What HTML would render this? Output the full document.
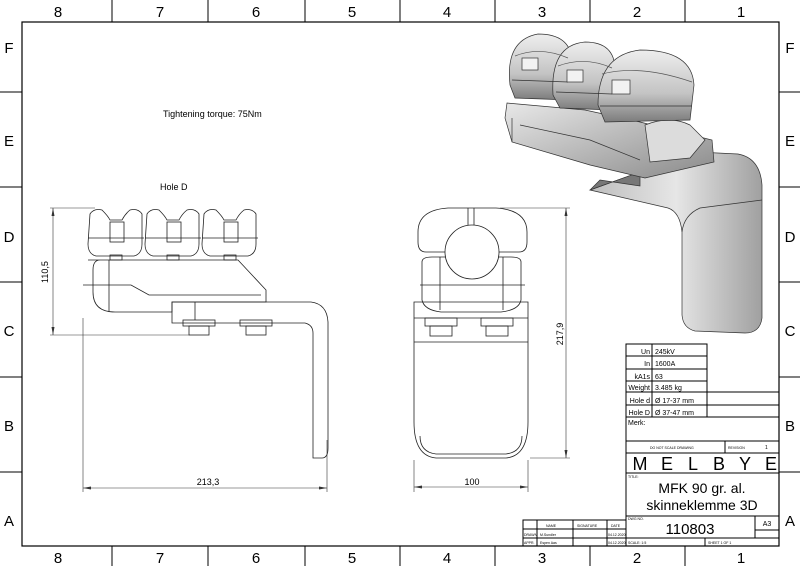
<!DOCTYPE html>
<html><head><meta charset="utf-8"><style>
html,body{margin:0;padding:0;background:#fff}
svg{display:block;font-family:"Liberation Sans",sans-serif}
</style></head><body>
<svg width="800" height="566" viewBox="0 0 800 566" xmlns="http://www.w3.org/2000/svg">
<defs>
<linearGradient id="g1" x1="0" y1="0" x2="1" y2="1"><stop offset="0" stop-color="#e8e8e8"/><stop offset="1" stop-color="#8a8a8a"/></linearGradient>
<linearGradient id="g2" x1="0" y1="0" x2="1" y2="0"><stop offset="0" stop-color="#bdbdbd"/><stop offset="0.5" stop-color="#e6e6e6"/><stop offset="1" stop-color="#a0a0a0"/></linearGradient>
<linearGradient id="g3" x1="0" y1="0" x2="0" y2="1"><stop offset="0" stop-color="#eeeeee"/><stop offset="0.6" stop-color="#c4c4c4"/><stop offset="1" stop-color="#7c7c7c"/></linearGradient>
<marker id="ar" markerWidth="8" markerHeight="6" refX="8" refY="3" orient="auto-start-reverse" markerUnits="userSpaceOnUse"><path d="M0 1.5 L8 3 L0 4.5z" fill="#333"/></marker>
</defs>
<rect x="0" y="0" width="800" height="566" fill="#fff"/>
<rect x="22" y="22" width="757" height="524" fill="none" stroke="#000" stroke-width="1.2"/>
<g stroke="#000" stroke-width="1">
<line x1="112" y1="0" x2="112" y2="22"/><line x1="208" y1="0" x2="208" y2="22"/><line x1="305" y1="0" x2="305" y2="22"/><line x1="400" y1="0" x2="400" y2="22"/><line x1="495" y1="0" x2="495" y2="22"/><line x1="590" y1="0" x2="590" y2="22"/><line x1="685" y1="0" x2="685" y2="22"/>
<line x1="112" y1="546" x2="112" y2="566"/><line x1="208" y1="546" x2="208" y2="566"/><line x1="305" y1="546" x2="305" y2="566"/><line x1="400" y1="546" x2="400" y2="566"/><line x1="495" y1="546" x2="495" y2="566"/><line x1="590" y1="546" x2="590" y2="566"/><line x1="685" y1="546" x2="685" y2="566"/>
<line x1="0" y1="92" x2="22" y2="92"/><line x1="0" y1="187" x2="22" y2="187"/><line x1="0" y1="282" x2="22" y2="282"/><line x1="0" y1="377" x2="22" y2="377"/><line x1="0" y1="472" x2="22" y2="472"/>
<line x1="779" y1="92" x2="800" y2="92"/><line x1="779" y1="187" x2="800" y2="187"/><line x1="779" y1="282" x2="800" y2="282"/><line x1="779" y1="377" x2="800" y2="377"/><line x1="779" y1="472" x2="800" y2="472"/>
</g>
<g font-size="15" fill="#000" text-anchor="middle">
<text x="58" y="17">8</text><text x="160" y="17">7</text><text x="256" y="17">6</text><text x="352" y="17">5</text><text x="447" y="17">4</text><text x="542" y="17">3</text><text x="637" y="17">2</text><text x="741" y="17">1</text>
<text x="58" y="563">8</text><text x="160" y="563">7</text><text x="256" y="563">6</text><text x="352" y="563">5</text><text x="447" y="563">4</text><text x="542" y="563">3</text><text x="637" y="563">2</text><text x="741" y="563">1</text>
<text x="9" y="53">F</text><text x="9" y="146">E</text><text x="9" y="242">D</text><text x="9" y="336">C</text><text x="9" y="431">B</text><text x="9" y="526">A</text>
<text x="790" y="53">F</text><text x="790" y="146">E</text><text x="790" y="242">D</text><text x="790" y="336">C</text><text x="790" y="431">B</text><text x="790" y="526">A</text>
</g>
<text x="163" y="117" font-size="9">Tightening torque: 75Nm</text>
<text x="160" y="190" font-size="9">Hole D</text>

<!-- side view -->
<g fill="none" stroke="#222" stroke-width="0.8">
<path d="M90 214 q4-6 12-4 q6 6 8 10 h12 q3-6 8-10 q8-2 12 4 v30 q0 10-8 12 h-38 q-8-2-8-12z"/>
<path d="M147 214 q4-6 12-4 q6 6 8 10 h12 q3-6 8-10 q8-2 12 4 v30 q0 10-8 12 h-38 q-8-2-8-12z"/>
<path d="M204 214 q4-6 12-4 q6 6 8 10 h12 q3-6 8-10 q8-2 12 4 v30 q0 10-8 12 h-38 q-8-2-8-12z"/>
<line x1="88" y1="238" x2="144" y2="238"/><line x1="145" y1="238" x2="201" y2="238"/><line x1="202" y1="238" x2="258" y2="238"/>
<rect x="110" y="222" width="14" height="20"/><rect x="167" y="222" width="14" height="20"/><rect x="224" y="222" width="14" height="20"/>
<rect x="110" y="255" width="12" height="5"/><rect x="167" y="255" width="12" height="5"/><rect x="224" y="255" width="12" height="5"/>
<path d="M88 260 h150 l28 30 v12 h-94 v10 h-57 q-22 0-22-20 v-22 q0-10 7-10z"/>
<path d="M83 285 h48 l18 10 h112 M109 260 v52"/>
<path d="M172 302 h139 q16 2 17 20 v126 q0 10-6 10 h-9 v-125 q0-8-8-10 h-133z"/>
<line x1="195" y1="302" x2="195" y2="320"/>
<rect x="183" y="320" width="32" height="6"/><rect x="189" y="326" width="20" height="9"/>
<rect x="240" y="320" width="32" height="6"/><rect x="246" y="326" width="20" height="9"/>
</g>
<g stroke="#333" stroke-width="0.6" fill="none">
<line x1="50" y1="208" x2="95" y2="208"/><line x1="50" y1="335" x2="190" y2="335"/>
<line x1="53" y1="208" x2="53" y2="335" marker-start="url(#ar)" marker-end="url(#ar)"/>
<line x1="83" y1="318" x2="83" y2="492"/><line x1="327" y1="440" x2="327" y2="492"/>
<line x1="83" y1="488" x2="327" y2="488" marker-start="url(#ar)" marker-end="url(#ar)"/>
</g>
<text x="48" y="272" font-size="9" transform="rotate(-90 48 272)" text-anchor="middle">110,5</text>
<text x="208" y="485" font-size="9" text-anchor="middle">213,3</text>

<!-- front view -->
<g fill="none" stroke="#222" stroke-width="0.8">
<path d="M418 232 q0-22 30-24 h48 q31 2 31 24 v10 q0 10-8 10 h-93 q-8 0-8-10z"/>
<line x1="468" y1="208" x2="468" y2="230"/><line x1="474" y1="208" x2="474" y2="230"/>
<path d="M422 262 q0-5 10-5 h79 q10 0 10 5 v38 q-2 10-20 12 h-60 q-17-2-19-12z"/>
<circle cx="472" cy="252" r="27" fill="#fff"/>
<line x1="420" y1="285" x2="525" y2="285"/>
<line x1="440" y1="257" x2="440" y2="310"/><line x1="503" y1="257" x2="503" y2="310"/>
<path d="M414 302 h114 v120 q0 34-22 36 h-70 q-22-2-22-36z"/>
<line x1="414" y1="318" x2="528" y2="318"/><line x1="414" y1="342" x2="528" y2="342"/>
<rect x="425" y="318" width="32" height="8"/><rect x="430" y="326" width="22" height="10"/>
<rect x="481" y="318" width="32" height="8"/><rect x="486" y="326" width="22" height="10"/>
<path d="M420 436 q0 16 16 18 h70 q16-2 16-18"/>
</g>
<g stroke="#333" stroke-width="0.6" fill="none">
<line x1="500" y1="208" x2="570" y2="208"/><line x1="530" y1="458" x2="570" y2="458"/>
<line x1="566" y1="208" x2="566" y2="458" marker-start="url(#ar)" marker-end="url(#ar)"/>
<line x1="414" y1="460" x2="414" y2="492"/><line x1="528" y1="460" x2="528" y2="492"/>
<line x1="414" y1="487" x2="528" y2="487" marker-start="url(#ar)" marker-end="url(#ar)"/>
</g>
<text x="566" y="334" font-size="9" transform="rotate(-90 566 334)" text-anchor="middle" dy="-3">217,9</text>
<text x="472" y="485" font-size="9" text-anchor="middle">100</text>

<!-- 3D view -->
<g stroke="#333" stroke-width="0.7">
<path d="M640 172 L656 150 L738 154 Q760 158 762 185 L762 318 Q760 333 745 333 L695 331 Q683 328 682 315 L682 232 Q680 212 668 208 L590 190 Z" fill="url(#g2)"/>
<path d="M682 232 Q684 215 700 208 L762 200" fill="none"/>
<path d="M590 190 L600 180 L640 186 L640 172 Z" fill="#777"/>
<path d="M507 103 L585 110 L640 122 L712 140 L714 162 L645 178 L590 165 L512 142 L505 118 Z" fill="url(#g1)"/>
<path d="M520 125 L590 140 L640 160 M512 142 L512 118" fill="none"/>
<path d="M645 125 Q670 115 690 125 L705 140 L690 158 L650 162 Z" fill="#dcdcdc"/>
<path d="M510 85 Q505 40 538 34 Q570 34 572 60 L570 100 L515 98 Z" fill="url(#g3)"/>
<path d="M553 95 Q550 45 585 42 Q615 42 615 70 L612 110 L560 108 Z" fill="url(#g3)"/>
<path d="M598 105 Q598 55 640 50 Q692 50 694 85 L690 120 L605 122 Z" fill="url(#g3)"/>
<path d="M515 56 Q540 46 568 58 M558 66 Q585 56 612 68 M602 74 Q640 64 692 82" fill="none" stroke="#555"/>
<path d="M512 80 L568 82 M556 92 L612 94 M600 106 L692 106" fill="none"/>
<rect x="522" y="58" width="16" height="12" fill="#f2f2f2"/><rect x="567" y="70" width="16" height="12" fill="#f2f2f2"/><rect x="612" y="80" width="18" height="14" fill="#f2f2f2"/>
</g>

<!-- title block -->
<g stroke="#000" stroke-width="1" fill="none">
<rect x="626" y="344" width="81" height="73"/>
<line x1="652" y1="344" x2="652" y2="417"/>
<line x1="626" y1="356" x2="707" y2="356"/><line x1="626" y1="369" x2="707" y2="369"/><line x1="626" y1="381" x2="707" y2="381"/><line x1="626" y1="392" x2="779" y2="392"/><line x1="626" y1="405" x2="779" y2="405"/>
<line x1="626" y1="417" x2="779" y2="417"/>
<line x1="626" y1="417" x2="626" y2="546"/>
<line x1="626" y1="441" x2="779" y2="441"/><line x1="626" y1="453" x2="779" y2="453"/><line x1="725" y1="441" x2="725" y2="453"/>
<line x1="626" y1="473" x2="779" y2="473"/><line x1="626" y1="516" x2="779" y2="516"/>
<line x1="626" y1="538" x2="779" y2="538"/><line x1="755" y1="516" x2="755" y2="538"/><line x1="755" y1="530" x2="779" y2="530"/>
<line x1="705" y1="538" x2="705" y2="546"/>
<rect x="523" y="520" width="103" height="26"/>
<line x1="523" y1="529" x2="626" y2="529"/><line x1="523" y1="538" x2="626" y2="538"/>
<line x1="537" y1="520" x2="537" y2="546"/><line x1="573" y1="520" x2="573" y2="546"/><line x1="607" y1="520" x2="607" y2="546"/>
</g>
<g font-size="7" fill="#000">
<text x="650" y="354" text-anchor="end">Un</text><text x="650" y="366" text-anchor="end">In</text><text x="650" y="379" text-anchor="end">kA1s</text><text x="650" y="390" text-anchor="end">Weight</text><text x="650" y="403" text-anchor="end">Hole d</text><text x="650" y="415" text-anchor="end">Hole D</text>
<text x="655" y="354">245kV</text><text x="655" y="366">1600A</text><text x="655" y="379">63</text><text x="655" y="390">3.485 kg</text><text x="655" y="403">Ø 17-37 mm</text><text x="655" y="415">Ø 37-47 mm</text>
<text x="628" y="425">Merk:</text>
</g>
<g font-size="3.5" fill="#000">
<text x="650" y="449">DO NOT SCALE DRAWING</text><text x="728" y="449">REVISION</text><text x="765" y="449" font-size="5">1</text>
<text x="628" y="478">TITLE:</text><text x="628" y="520">DWG NO.</text><text x="628" y="544">SCALE: 1:5</text><text x="708" y="544">SHEET 1 OF 1</text>
<text x="546" y="527">NAME</text><text x="577" y="527">SIGNATURE</text><text x="611" y="527">DATE</text>
<text x="524" y="536">DRAWN</text><text x="540" y="536">M.Sundler</text><text x="608" y="536">04.12.2020</text>
<text x="524" y="544">APPR.</text><text x="540" y="544">Espen Aas</text><text x="608" y="544">04.12.2020</text>
</g>
<g font-size="18" text-anchor="middle">
<text x="640" y="470">M</text><text x="667" y="470">E</text><text x="693" y="470">L</text><text x="719" y="470">B</text><text x="745" y="470">Y</text><text x="771" y="470">E</text>
</g>
<text x="702" y="493" font-size="14" text-anchor="middle">MFK 90 gr. al.</text>
<text x="702" y="510" font-size="14" text-anchor="middle">skinneklemme 3D</text>
<text x="690" y="534" font-size="15" text-anchor="middle">110803</text>
<text x="767" y="526" font-size="7" text-anchor="middle">A3</text>
</svg>
</body></html>
